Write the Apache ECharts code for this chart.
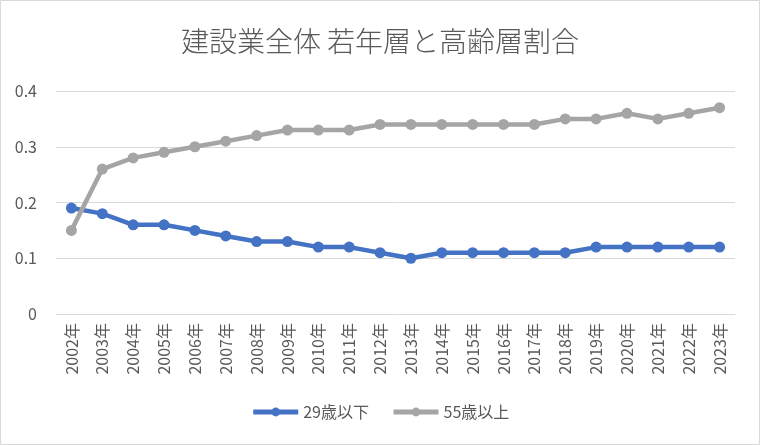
<!DOCTYPE html>
<html><head><meta charset="utf-8">
<script src="https://cdn.jsdelivr.net/npm/echarts@6/dist/echarts.min.js"></script>
<style>html,body{margin:0;padding:0;background:#fff}#c{width:760px;height:445px}</style>
</head><body><div id="c"></div>
<script>
const categories = ['2002年','2003年','2004年','2005年','2006年','2007年','2008年','2009年','2010年','2011年','2012年','2013年','2014年','2015年','2016年','2017年','2018年','2019年','2020年','2021年','2022年','2023年'];
const young = [0.19,0.18,0.16,0.16,0.15,0.14,0.13,0.13,0.12,0.12,0.11,0.10,0.11,0.11,0.11,0.11,0.11,0.12,0.12,0.12,0.12,0.12];
const old = [0.15,0.26,0.28,0.29,0.30,0.31,0.32,0.33,0.33,0.33,0.34,0.34,0.34,0.34,0.34,0.34,0.35,0.35,0.36,0.35,0.36,0.37];
const seriesNames = ['29歳以下','55歳以上'];
const titleText = '建設業全体 若年層と高齢層割合';
const font = '"Noto Sans CJK JP", "Noto Sans", sans-serif';
const chart = echarts.init(document.getElementById('c'));
chart.setOption({
  animation:false,
  graphic:[{type:'rect',shape:{x:0.5,y:0.5,width:759,height:444},style:{fill:'none',stroke:'#d9d9d9',lineWidth:1}}],
  title:{text:titleText,left:'center',top:22,textStyle:{fontFamily:font,fontSize:28,fontWeight:300,color:'#595959'}},
  legend:{bottom:20,left:'center',itemWidth:45,itemHeight:11,itemGap:22,
    lineStyle:{width:5},
    textStyle:{fontFamily:font,fontSize:16,color:'#595959'},data:seriesNames},
  grid:{left:56,right:25,top:91,bottom:131,containLabel:false},
  xAxis:{type:'category',data:categories,boundaryGap:true,
    axisLine:{lineStyle:{color:'#d9d9d9',width:1}},axisTick:{show:false},
    axisLabel:{rotate:90,interval:0,fontFamily:font,fontSize:16,color:'#595959',margin:9}},
  yAxis:{type:'value',min:0,max:0.4,interval:0.1,
    axisLine:{show:false},axisTick:{show:false},
    splitLine:{lineStyle:{color:'#d9d9d9',width:1}},
    axisLabel:{fontFamily:font,fontSize:16,color:'#595959',margin:19,formatter:v=>String(Math.round(v*10)/10)}},
  series:[
    {name:seriesNames[0],type:'line',data:young,symbol:'circle',symbolSize:11,
      lineStyle:{color:'#4472C4',width:4.5},itemStyle:{color:'#4472C4'}},
    {name:seriesNames[1],type:'line',data:old,symbol:'circle',symbolSize:11,
      lineStyle:{color:'#A5A5A5',width:4.5},itemStyle:{color:'#A5A5A5'}}
  ]
});
</script></body></html>
